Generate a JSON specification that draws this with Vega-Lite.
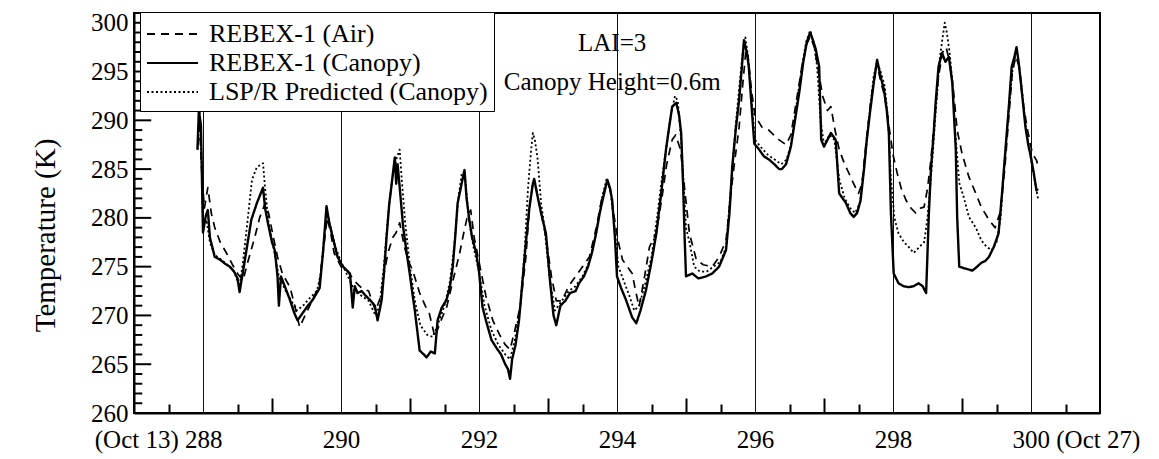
{
  "$schema": "https://vega.github.io/schema/vega-lite/v6.json",
  "width": 966,
  "height": 400,
  "autosize": {"type": "none"},
  "padding": {"left": 134, "top": 13, "right": 59, "bottom": 46},
  "background": "white",
  "config": {
    "font": "Liberation Serif",
    "view": {"stroke": "black", "strokeWidth": 2},
    "axis": {"labelFont": "Liberation Serif", "titleFont": "Liberation Serif", "labelColor": "black", "titleColor": "black", "domainColor": "black", "domainWidth": 2, "tickColor": "black", "tickWidth": 2, "labelFontSize": 25, "labelOverlap": false, "labelBound": false, "labelFlush": false},
    "legend": {"title": null, "orient": "none", "legendX": 6, "legendY": -1,
      "symbolType": "M-1,0H2.4", "symbolSize": 900, "symbolStrokeColor": "black", "symbolStrokeWidth": 1.8, "symbolFillColor": "transparent",
      "labelFont": "Liberation Serif", "labelFontSize": 26, "labelColor": "black", "labelLimit": 400, "labelOffset": 31,
      "rowPadding": -4.5, "padding": 6, "strokeColor": "black", "fillColor": "white"}
  },
  "data": {"values": [
{"s":"c","d":287.92,"t":287.0},{"s":"c","d":287.94,"t":291.0},{"s":"c","d":287.97,"t":289.5},{"s":"c","d":288.0,"t":278.5},{"s":"c","d":288.04,"t":280.2},{"s":"c","d":288.07,"t":280.8},{"s":"c","d":288.1,"t":278.0},{"s":"c","d":288.17,"t":276.0},{"s":"c","d":288.25,"t":275.7},{"s":"c","d":288.32,"t":275.3},{"s":"c","d":288.39,"t":275.0},{"s":"c","d":288.45,"t":274.5},{"s":"c","d":288.5,"t":273.8},{"s":"c","d":288.53,"t":272.4},{"s":"c","d":288.58,"t":274.5},{"s":"c","d":288.63,"t":276.7},{"s":"c","d":288.7,"t":279.8},{"s":"c","d":288.78,"t":281.5},{"s":"c","d":288.87,"t":283.1},{"s":"c","d":288.9,"t":281.0},{"s":"c","d":288.94,"t":279.5},{"s":"c","d":289.0,"t":277.5},{"s":"c","d":289.04,"t":276.7},{"s":"c","d":289.08,"t":274.0},{"s":"c","d":289.1,"t":271.0},{"s":"c","d":289.13,"t":274.0},{"s":"c","d":289.19,"t":272.9},{"s":"c","d":289.26,"t":271.6},{"s":"c","d":289.32,"t":270.3},{"s":"c","d":289.37,"t":269.5},{"s":"c","d":289.45,"t":270.3},{"s":"c","d":289.52,"t":271.0},{"s":"c","d":289.59,"t":271.6},{"s":"c","d":289.69,"t":272.8},{"s":"c","d":289.74,"t":276.5},{"s":"c","d":289.79,"t":281.2},{"s":"c","d":289.83,"t":279.5},{"s":"c","d":289.88,"t":278.0},{"s":"c","d":289.95,"t":276.0},{"s":"c","d":290.03,"t":275.0},{"s":"c","d":290.13,"t":274.3},{"s":"c","d":290.17,"t":270.8},{"s":"c","d":290.2,"t":273.0},{"s":"c","d":290.24,"t":272.3},{"s":"c","d":290.3,"t":272.5},{"s":"c","d":290.36,"t":272.0},{"s":"c","d":290.42,"t":271.6},{"s":"c","d":290.49,"t":271.0},{"s":"c","d":290.53,"t":269.5},{"s":"c","d":290.59,"t":271.6},{"s":"c","d":290.63,"t":275.0},{"s":"c","d":290.66,"t":278.0},{"s":"c","d":290.7,"t":281.5},{"s":"c","d":290.73,"t":283.2},{"s":"c","d":290.76,"t":285.0},{"s":"c","d":290.78,"t":286.2},{"s":"c","d":290.8,"t":283.5},{"s":"c","d":290.82,"t":285.5},{"s":"c","d":290.85,"t":283.2},{"s":"c","d":290.9,"t":279.1},{"s":"c","d":290.95,"t":276.5},{"s":"c","d":290.99,"t":274.6},{"s":"c","d":291.03,"t":272.5},{"s":"c","d":291.07,"t":270.5},{"s":"c","d":291.14,"t":266.4},{"s":"c","d":291.2,"t":266.0},{"s":"c","d":291.24,"t":265.7},{"s":"c","d":291.3,"t":266.3},{"s":"c","d":291.36,"t":266.1},{"s":"c","d":291.4,"t":269.5},{"s":"c","d":291.46,"t":270.8},{"s":"c","d":291.53,"t":271.6},{"s":"c","d":291.58,"t":273.0},{"s":"c","d":291.62,"t":275.0},{"s":"c","d":291.66,"t":278.5},{"s":"c","d":291.69,"t":281.5},{"s":"c","d":291.76,"t":283.9},{"s":"c","d":291.79,"t":284.9},{"s":"c","d":291.82,"t":282.0},{"s":"c","d":291.86,"t":279.8},{"s":"c","d":291.9,"t":278.0},{"s":"c","d":291.96,"t":276.4},{"s":"c","d":292.0,"t":274.5},{"s":"c","d":292.05,"t":270.9},{"s":"c","d":292.1,"t":269.5},{"s":"c","d":292.18,"t":267.5},{"s":"c","d":292.25,"t":266.7},{"s":"c","d":292.32,"t":266.0},{"s":"c","d":292.38,"t":265.0},{"s":"c","d":292.42,"t":264.5},{"s":"c","d":292.45,"t":263.5},{"s":"c","d":292.48,"t":265.5},{"s":"c","d":292.53,"t":267.0},{"s":"c","d":292.58,"t":269.5},{"s":"c","d":292.63,"t":273.5},{"s":"c","d":292.68,"t":277.5},{"s":"c","d":292.73,"t":281.0},{"s":"c","d":292.78,"t":283.5},{"s":"c","d":292.8,"t":284.0},{"s":"c","d":292.84,"t":282.5},{"s":"c","d":292.9,"t":280.5},{"s":"c","d":292.97,"t":278.4},{"s":"c","d":293.03,"t":273.5},{"s":"c","d":293.08,"t":270.0},{"s":"c","d":293.12,"t":269.0},{"s":"c","d":293.18,"t":271.0},{"s":"c","d":293.25,"t":271.5},{"s":"c","d":293.32,"t":272.3},{"s":"c","d":293.4,"t":272.5},{"s":"c","d":293.45,"t":273.3},{"s":"c","d":293.52,"t":274.0},{"s":"c","d":293.58,"t":275.0},{"s":"c","d":293.64,"t":276.5},{"s":"c","d":293.7,"t":278.5},{"s":"c","d":293.75,"t":280.5},{"s":"c","d":293.79,"t":281.8},{"s":"c","d":293.86,"t":283.9},{"s":"c","d":293.9,"t":283.0},{"s":"c","d":293.93,"t":281.8},{"s":"c","d":293.97,"t":278.0},{"s":"c","d":294.0,"t":274.0},{"s":"c","d":294.06,"t":272.8},{"s":"c","d":294.13,"t":271.6},{"s":"c","d":294.22,"t":269.8},{"s":"c","d":294.28,"t":269.2},{"s":"c","d":294.34,"t":270.5},{"s":"c","d":294.42,"t":272.6},{"s":"c","d":294.5,"t":275.5},{"s":"c","d":294.57,"t":278.4},{"s":"c","d":294.64,"t":282.5},{"s":"c","d":294.71,"t":287.0},{"s":"c","d":294.76,"t":289.5},{"s":"c","d":294.8,"t":291.4},{"s":"c","d":294.86,"t":291.8},{"s":"c","d":294.9,"t":290.5},{"s":"c","d":294.93,"t":288.7},{"s":"c","d":294.96,"t":283.0},{"s":"c","d":294.98,"t":278.0},{"s":"c","d":295.0,"t":274.0},{"s":"c","d":295.09,"t":274.3},{"s":"c","d":295.18,"t":273.8},{"s":"c","d":295.29,"t":274.0},{"s":"c","d":295.38,"t":274.3},{"s":"c","d":295.48,"t":275.0},{"s":"c","d":295.58,"t":276.7},{"s":"c","d":295.63,"t":280.5},{"s":"c","d":295.67,"t":285.2},{"s":"c","d":295.72,"t":289.0},{"s":"c","d":295.77,"t":292.1},{"s":"c","d":295.81,"t":295.5},{"s":"c","d":295.84,"t":298.2},{"s":"c","d":295.88,"t":297.0},{"s":"c","d":295.91,"t":295.5},{"s":"c","d":295.95,"t":291.5},{"s":"c","d":295.99,"t":287.6},{"s":"c","d":296.06,"t":287.0},{"s":"c","d":296.13,"t":286.3},{"s":"c","d":296.2,"t":286.0},{"s":"c","d":296.28,"t":285.5},{"s":"c","d":296.35,"t":285.0},{"s":"c","d":296.39,"t":285.0},{"s":"c","d":296.45,"t":285.5},{"s":"c","d":296.52,"t":287.3},{"s":"c","d":296.58,"t":290.0},{"s":"c","d":296.64,"t":292.8},{"s":"c","d":296.7,"t":296.0},{"s":"c","d":296.75,"t":298.0},{"s":"c","d":296.8,"t":299.0},{"s":"c","d":296.84,"t":298.2},{"s":"c","d":296.88,"t":297.3},{"s":"c","d":296.93,"t":295.5},{"s":"c","d":296.96,"t":288.0},{"s":"c","d":297.0,"t":287.3},{"s":"c","d":297.05,"t":288.0},{"s":"c","d":297.1,"t":288.7},{"s":"c","d":297.17,"t":288.0},{"s":"c","d":297.22,"t":282.5},{"s":"c","d":297.27,"t":282.0},{"s":"c","d":297.32,"t":281.5},{"s":"c","d":297.38,"t":280.5},{"s":"c","d":297.43,"t":280.1},{"s":"c","d":297.48,"t":280.5},{"s":"c","d":297.53,"t":281.8},{"s":"c","d":297.58,"t":285.0},{"s":"c","d":297.62,"t":288.0},{"s":"c","d":297.67,"t":291.0},{"s":"c","d":297.72,"t":293.8},{"s":"c","d":297.77,"t":296.2},{"s":"c","d":297.82,"t":294.5},{"s":"c","d":297.87,"t":293.1},{"s":"c","d":297.91,"t":291.0},{"s":"c","d":297.94,"t":288.7},{"s":"c","d":297.97,"t":280.5},{"s":"c","d":298.01,"t":274.3},{"s":"c","d":298.08,"t":273.3},{"s":"c","d":298.15,"t":273.0},{"s":"c","d":298.23,"t":272.9},{"s":"c","d":298.3,"t":273.0},{"s":"c","d":298.37,"t":273.3},{"s":"c","d":298.43,"t":273.0},{"s":"c","d":298.48,"t":272.3},{"s":"c","d":298.52,"t":280.5},{"s":"c","d":298.55,"t":285.0},{"s":"c","d":298.59,"t":288.7},{"s":"c","d":298.62,"t":292.0},{"s":"c","d":298.66,"t":295.5},{"s":"c","d":298.71,"t":296.9},{"s":"c","d":298.76,"t":296.0},{"s":"c","d":298.81,"t":296.5},{"s":"c","d":298.86,"t":293.8},{"s":"c","d":298.91,"t":287.0},{"s":"c","d":298.93,"t":280.1},{"s":"c","d":298.96,"t":275.0},{"s":"c","d":299.05,"t":274.8},{"s":"c","d":299.15,"t":274.6},{"s":"c","d":299.22,"t":275.0},{"s":"c","d":299.28,"t":275.4},{"s":"c","d":299.34,"t":275.6},{"s":"c","d":299.39,"t":276.0},{"s":"c","d":299.46,"t":277.0},{"s":"c","d":299.53,"t":278.4},{"s":"c","d":299.58,"t":282.5},{"s":"c","d":299.63,"t":287.0},{"s":"c","d":299.68,"t":291.5},{"s":"c","d":299.72,"t":295.5},{"s":"c","d":299.76,"t":296.5},{"s":"c","d":299.79,"t":297.5},{"s":"c","d":299.82,"t":296.0},{"s":"c","d":299.85,"t":294.1},{"s":"c","d":299.92,"t":289.3},{"s":"c","d":299.96,"t":287.5},{"s":"c","d":300.0,"t":286.2},{"s":"c","d":300.04,"t":284.6},{"s":"c","d":300.08,"t":282.8},{"s":"c","d":300.1,"t":283.0},
{"s":"a","d":287.93,"t":287.5},{"s":"a","d":287.95,"t":290.0},{"s":"a","d":287.98,"t":285.0},{"s":"a","d":288.02,"t":281.0},{"s":"a","d":288.07,"t":283.1},{"s":"a","d":288.12,"t":280.5},{"s":"a","d":288.17,"t":279.0},{"s":"a","d":288.25,"t":277.5},{"s":"a","d":288.34,"t":276.4},{"s":"a","d":288.42,"t":275.3},{"s":"a","d":288.5,"t":274.3},{"s":"a","d":288.58,"t":273.6},{"s":"a","d":288.65,"t":275.5},{"s":"a","d":288.75,"t":278.0},{"s":"a","d":288.82,"t":280.0},{"s":"a","d":288.9,"t":281.5},{"s":"a","d":288.95,"t":280.5},{"s":"a","d":289.02,"t":278.0},{"s":"a","d":289.08,"t":276.0},{"s":"a","d":289.15,"t":274.3},{"s":"a","d":289.26,"t":272.9},{"s":"a","d":289.33,"t":271.0},{"s":"a","d":289.4,"t":268.8},{"s":"a","d":289.48,"t":270.0},{"s":"a","d":289.58,"t":271.5},{"s":"a","d":289.68,"t":273.0},{"s":"a","d":289.75,"t":277.0},{"s":"a","d":289.8,"t":280.0},{"s":"a","d":289.85,"t":278.5},{"s":"a","d":289.9,"t":276.4},{"s":"a","d":290.0,"t":275.0},{"s":"a","d":290.1,"t":274.5},{"s":"a","d":290.2,"t":273.5},{"s":"a","d":290.3,"t":272.8},{"s":"a","d":290.4,"t":272.5},{"s":"a","d":290.5,"t":270.5},{"s":"a","d":290.58,"t":272.0},{"s":"a","d":290.63,"t":274.5},{"s":"a","d":290.68,"t":276.4},{"s":"a","d":290.75,"t":278.0},{"s":"a","d":290.8,"t":278.5},{"s":"a","d":290.85,"t":279.5},{"s":"a","d":290.92,"t":277.0},{"s":"a","d":290.98,"t":275.5},{"s":"a","d":291.04,"t":274.6},{"s":"a","d":291.14,"t":272.3},{"s":"a","d":291.22,"t":271.0},{"s":"a","d":291.28,"t":270.2},{"s":"a","d":291.36,"t":267.8},{"s":"a","d":291.45,"t":269.5},{"s":"a","d":291.53,"t":270.8},{"s":"a","d":291.62,"t":273.5},{"s":"a","d":291.72,"t":276.4},{"s":"a","d":291.78,"t":278.5},{"s":"a","d":291.83,"t":280.1},{"s":"a","d":291.88,"t":280.8},{"s":"a","d":291.93,"t":278.0},{"s":"a","d":292.0,"t":275.5},{"s":"a","d":292.1,"t":272.0},{"s":"a","d":292.2,"t":269.5},{"s":"a","d":292.3,"t":268.0},{"s":"a","d":292.38,"t":267.0},{"s":"a","d":292.45,"t":266.5},{"s":"a","d":292.52,"t":268.5},{"s":"a","d":292.6,"t":271.0},{"s":"a","d":292.68,"t":276.0},{"s":"a","d":292.73,"t":281.1},{"s":"a","d":292.78,"t":283.5},{"s":"a","d":292.83,"t":283.0},{"s":"a","d":292.9,"t":280.5},{"s":"a","d":292.97,"t":278.0},{"s":"a","d":293.05,"t":274.0},{"s":"a","d":293.12,"t":271.5},{"s":"a","d":293.2,"t":271.5},{"s":"a","d":293.3,"t":273.0},{"s":"a","d":293.4,"t":274.0},{"s":"a","d":293.5,"t":275.0},{"s":"a","d":293.6,"t":276.0},{"s":"a","d":293.7,"t":279.0},{"s":"a","d":293.78,"t":282.0},{"s":"a","d":293.85,"t":283.5},{"s":"a","d":293.9,"t":283.0},{"s":"a","d":293.95,"t":280.5},{"s":"a","d":294.02,"t":277.5},{"s":"a","d":294.08,"t":275.7},{"s":"a","d":294.15,"t":275.0},{"s":"a","d":294.22,"t":274.3},{"s":"a","d":294.27,"t":272.5},{"s":"a","d":294.32,"t":270.9},{"s":"a","d":294.4,"t":274.0},{"s":"a","d":294.47,"t":277.0},{"s":"a","d":294.57,"t":278.5},{"s":"a","d":294.65,"t":282.0},{"s":"a","d":294.72,"t":285.5},{"s":"a","d":294.8,"t":288.0},{"s":"a","d":294.85,"t":288.5},{"s":"a","d":294.92,"t":287.0},{"s":"a","d":294.98,"t":283.0},{"s":"a","d":295.05,"t":278.4},{"s":"a","d":295.15,"t":275.7},{"s":"a","d":295.25,"t":275.2},{"s":"a","d":295.38,"t":275.0},{"s":"a","d":295.48,"t":276.0},{"s":"a","d":295.58,"t":277.7},{"s":"a","d":295.65,"t":282.5},{"s":"a","d":295.7,"t":285.5},{"s":"a","d":295.77,"t":289.3},{"s":"a","d":295.82,"t":293.5},{"s":"a","d":295.87,"t":297.3},{"s":"a","d":295.9,"t":296.5},{"s":"a","d":295.95,"t":293.0},{"s":"a","d":296.0,"t":290.5},{"s":"a","d":296.1,"t":289.3},{"s":"a","d":296.2,"t":289.0},{"s":"a","d":296.3,"t":288.3},{"s":"a","d":296.35,"t":288.0},{"s":"a","d":296.45,"t":287.5},{"s":"a","d":296.52,"t":288.5},{"s":"a","d":296.6,"t":292.0},{"s":"a","d":296.68,"t":295.5},{"s":"a","d":296.75,"t":297.8},{"s":"a","d":296.8,"t":298.6},{"s":"a","d":296.86,"t":297.5},{"s":"a","d":296.92,"t":295.0},{"s":"a","d":296.98,"t":292.5},{"s":"a","d":297.05,"t":291.0},{"s":"a","d":297.1,"t":291.4},{"s":"a","d":297.16,"t":289.0},{"s":"a","d":297.22,"t":287.0},{"s":"a","d":297.3,"t":285.5},{"s":"a","d":297.36,"t":284.6},{"s":"a","d":297.43,"t":283.5},{"s":"a","d":297.5,"t":282.5},{"s":"a","d":297.55,"t":283.5},{"s":"a","d":297.6,"t":287.0},{"s":"a","d":297.67,"t":291.5},{"s":"a","d":297.72,"t":294.0},{"s":"a","d":297.77,"t":295.8},{"s":"a","d":297.82,"t":294.0},{"s":"a","d":297.88,"t":292.5},{"s":"a","d":297.94,"t":289.5},{"s":"a","d":298.0,"t":286.5},{"s":"a","d":298.06,"t":284.6},{"s":"a","d":298.12,"t":283.0},{"s":"a","d":298.19,"t":281.8},{"s":"a","d":298.26,"t":281.0},{"s":"a","d":298.33,"t":280.5},{"s":"a","d":298.4,"t":281.0},{"s":"a","d":298.45,"t":281.1},{"s":"a","d":298.5,"t":283.0},{"s":"a","d":298.55,"t":286.0},{"s":"a","d":298.6,"t":290.0},{"s":"a","d":298.66,"t":294.5},{"s":"a","d":298.72,"t":297.0},{"s":"a","d":298.77,"t":297.5},{"s":"a","d":298.82,"t":296.0},{"s":"a","d":298.87,"t":293.5},{"s":"a","d":298.93,"t":289.0},{"s":"a","d":299.0,"t":286.6},{"s":"a","d":299.1,"t":284.2},{"s":"a","d":299.2,"t":282.5},{"s":"a","d":299.28,"t":281.1},{"s":"a","d":299.39,"t":279.8},{"s":"a","d":299.48,"t":279.0},{"s":"a","d":299.55,"t":280.5},{"s":"a","d":299.62,"t":285.0},{"s":"a","d":299.68,"t":290.5},{"s":"a","d":299.73,"t":295.0},{"s":"a","d":299.78,"t":296.5},{"s":"a","d":299.83,"t":295.5},{"s":"a","d":299.88,"t":292.0},{"s":"a","d":299.95,"t":289.0},{"s":"a","d":300.02,"t":286.6},{"s":"a","d":300.08,"t":285.9},{"s":"a","d":300.12,"t":285.0},
{"s":"p","d":287.92,"t":287.0},{"s":"p","d":287.95,"t":291.0},{"s":"p","d":287.98,"t":286.0},{"s":"p","d":288.0,"t":279.0},{"s":"p","d":288.05,"t":279.8},{"s":"p","d":288.1,"t":277.5},{"s":"p","d":288.17,"t":276.2},{"s":"p","d":288.25,"t":275.8},{"s":"p","d":288.35,"t":275.2},{"s":"p","d":288.45,"t":274.5},{"s":"p","d":288.53,"t":273.0},{"s":"p","d":288.58,"t":275.5},{"s":"p","d":288.65,"t":280.0},{"s":"p","d":288.71,"t":283.9},{"s":"p","d":288.78,"t":285.2},{"s":"p","d":288.87,"t":285.6},{"s":"p","d":288.9,"t":283.0},{"s":"p","d":288.95,"t":279.5},{"s":"p","d":289.02,"t":277.0},{"s":"p","d":289.1,"t":274.0},{"s":"p","d":289.2,"t":272.5},{"s":"p","d":289.28,"t":271.5},{"s":"p","d":289.36,"t":270.5},{"s":"p","d":289.45,"t":271.0},{"s":"p","d":289.55,"t":271.8},{"s":"p","d":289.65,"t":272.5},{"s":"p","d":289.7,"t":274.0},{"s":"p","d":289.75,"t":277.5},{"s":"p","d":289.8,"t":280.5},{"s":"p","d":289.85,"t":279.0},{"s":"p","d":289.92,"t":277.0},{"s":"p","d":290.0,"t":275.5},{"s":"p","d":290.1,"t":274.0},{"s":"p","d":290.2,"t":272.5},{"s":"p","d":290.3,"t":272.0},{"s":"p","d":290.4,"t":271.5},{"s":"p","d":290.5,"t":270.0},{"s":"p","d":290.56,"t":271.0},{"s":"p","d":290.62,"t":275.0},{"s":"p","d":290.68,"t":280.0},{"s":"p","d":290.74,"t":284.0},{"s":"p","d":290.8,"t":286.0},{"s":"p","d":290.85,"t":287.0},{"s":"p","d":290.88,"t":284.0},{"s":"p","d":290.93,"t":279.5},{"s":"p","d":291.0,"t":275.0},{"s":"p","d":291.07,"t":271.5},{"s":"p","d":291.15,"t":269.0},{"s":"p","d":291.25,"t":268.0},{"s":"p","d":291.33,"t":267.8},{"s":"p","d":291.4,"t":269.0},{"s":"p","d":291.5,"t":271.0},{"s":"p","d":291.58,"t":273.5},{"s":"p","d":291.64,"t":277.0},{"s":"p","d":291.7,"t":282.0},{"s":"p","d":291.75,"t":284.5},{"s":"p","d":291.8,"t":284.0},{"s":"p","d":291.85,"t":280.0},{"s":"p","d":291.92,"t":277.0},{"s":"p","d":292.0,"t":274.5},{"s":"p","d":292.08,"t":271.0},{"s":"p","d":292.18,"t":268.5},{"s":"p","d":292.28,"t":267.0},{"s":"p","d":292.38,"t":266.0},{"s":"p","d":292.45,"t":265.5},{"s":"p","d":292.52,"t":267.5},{"s":"p","d":292.6,"t":271.0},{"s":"p","d":292.66,"t":276.5},{"s":"p","d":292.71,"t":283.0},{"s":"p","d":292.75,"t":286.5},{"s":"p","d":292.78,"t":288.7},{"s":"p","d":292.81,"t":288.0},{"s":"p","d":292.85,"t":286.0},{"s":"p","d":292.9,"t":281.5},{"s":"p","d":292.95,"t":279.0},{"s":"p","d":293.02,"t":274.0},{"s":"p","d":293.1,"t":270.5},{"s":"p","d":293.2,"t":271.5},{"s":"p","d":293.3,"t":272.5},{"s":"p","d":293.4,"t":273.0},{"s":"p","d":293.5,"t":274.0},{"s":"p","d":293.6,"t":275.5},{"s":"p","d":293.7,"t":278.5},{"s":"p","d":293.78,"t":282.0},{"s":"p","d":293.85,"t":284.0},{"s":"p","d":293.9,"t":283.0},{"s":"p","d":293.95,"t":280.0},{"s":"p","d":294.02,"t":275.0},{"s":"p","d":294.1,"t":273.5},{"s":"p","d":294.18,"t":272.0},{"s":"p","d":294.25,"t":270.5},{"s":"p","d":294.32,"t":271.0},{"s":"p","d":294.4,"t":273.0},{"s":"p","d":294.5,"t":276.0},{"s":"p","d":294.58,"t":280.0},{"s":"p","d":294.65,"t":284.0},{"s":"p","d":294.72,"t":287.5},{"s":"p","d":294.78,"t":290.5},{"s":"p","d":294.84,"t":292.5},{"s":"p","d":294.88,"t":292.0},{"s":"p","d":294.93,"t":288.0},{"s":"p","d":294.97,"t":283.0},{"s":"p","d":295.0,"t":279.0},{"s":"p","d":295.05,"t":277.5},{"s":"p","d":295.12,"t":275.0},{"s":"p","d":295.2,"t":274.5},{"s":"p","d":295.3,"t":274.5},{"s":"p","d":295.4,"t":275.0},{"s":"p","d":295.5,"t":275.5},{"s":"p","d":295.58,"t":277.0},{"s":"p","d":295.65,"t":283.0},{"s":"p","d":295.72,"t":289.5},{"s":"p","d":295.78,"t":294.0},{"s":"p","d":295.83,"t":297.5},{"s":"p","d":295.86,"t":298.5},{"s":"p","d":295.9,"t":296.5},{"s":"p","d":295.95,"t":292.0},{"s":"p","d":296.0,"t":288.0},{"s":"p","d":296.08,"t":287.3},{"s":"p","d":296.18,"t":286.5},{"s":"p","d":296.28,"t":286.0},{"s":"p","d":296.38,"t":285.5},{"s":"p","d":296.46,"t":286.0},{"s":"p","d":296.52,"t":287.5},{"s":"p","d":296.6,"t":291.5},{"s":"p","d":296.68,"t":295.5},{"s":"p","d":296.74,"t":298.0},{"s":"p","d":296.8,"t":299.2},{"s":"p","d":296.85,"t":298.0},{"s":"p","d":296.9,"t":295.5},{"s":"p","d":296.95,"t":290.0},{"s":"p","d":297.0,"t":287.5},{"s":"p","d":297.08,"t":288.5},{"s":"p","d":297.15,"t":288.0},{"s":"p","d":297.22,"t":284.0},{"s":"p","d":297.3,"t":282.0},{"s":"p","d":297.38,"t":281.0},{"s":"p","d":297.45,"t":280.5},{"s":"p","d":297.52,"t":281.5},{"s":"p","d":297.58,"t":285.0},{"s":"p","d":297.65,"t":290.0},{"s":"p","d":297.72,"t":294.5},{"s":"p","d":297.77,"t":296.0},{"s":"p","d":297.82,"t":295.0},{"s":"p","d":297.88,"t":293.5},{"s":"p","d":297.93,"t":290.0},{"s":"p","d":297.97,"t":284.0},{"s":"p","d":298.02,"t":280.0},{"s":"p","d":298.08,"t":278.4},{"s":"p","d":298.16,"t":277.5},{"s":"p","d":298.23,"t":277.0},{"s":"p","d":298.3,"t":276.4},{"s":"p","d":298.38,"t":277.0},{"s":"p","d":298.45,"t":277.5},{"s":"p","d":298.5,"t":280.0},{"s":"p","d":298.56,"t":285.0},{"s":"p","d":298.62,"t":291.0},{"s":"p","d":298.68,"t":296.5},{"s":"p","d":298.72,"t":298.5},{"s":"p","d":298.75,"t":300.0},{"s":"p","d":298.78,"t":299.0},{"s":"p","d":298.82,"t":297.0},{"s":"p","d":298.86,"t":294.0},{"s":"p","d":298.9,"t":289.0},{"s":"p","d":298.96,"t":283.6},{"s":"p","d":299.03,"t":282.0},{"s":"p","d":299.1,"t":280.1},{"s":"p","d":299.2,"t":279.0},{"s":"p","d":299.28,"t":277.7},{"s":"p","d":299.36,"t":277.0},{"s":"p","d":299.43,"t":276.7},{"s":"p","d":299.5,"t":277.5},{"s":"p","d":299.56,"t":280.0},{"s":"p","d":299.62,"t":286.0},{"s":"p","d":299.68,"t":291.5},{"s":"p","d":299.73,"t":295.0},{"s":"p","d":299.77,"t":296.5},{"s":"p","d":299.82,"t":296.0},{"s":"p","d":299.87,"t":293.0},{"s":"p","d":299.93,"t":289.0},{"s":"p","d":300.0,"t":286.0},{"s":"p","d":300.05,"t":284.0},{"s":"p","d":300.1,"t":282.0}
  ]},
  "resolve": {"axis": {"x": "independent", "y": "independent"}},
  "layer": [
    {
      "data": {"values": [
        {"v":261},{"v":262},{"v":263},{"v":264},{"v":266},{"v":267},{"v":268},{"v":269},{"v":271},{"v":272},{"v":273},{"v":274},{"v":276},{"v":277},{"v":278},{"v":279},
        {"v":281},{"v":282},{"v":283},{"v":284},{"v":286},{"v":287},{"v":288},{"v":289},{"v":291},{"v":292},{"v":293},{"v":294},{"v":296},{"v":297},{"v":298},{"v":299}
      ]},
      "mark": {"type": "rule", "color": "black", "strokeWidth": 2},
      "encoding": {
        "x": {"datum": 287, "type": "quantitative", "axis": null},
        "x2": {"datum": 287.12},
        "y": {"field": "v", "type": "quantitative", "axis": null}
      }
    },
    {
      "data": {"values": [
        {"v":260},{"v":265},{"v":270},{"v":275},{"v":280},{"v":285},{"v":290},{"v":295},{"v":300}
      ]},
      "mark": {"type": "rule", "color": "black", "strokeWidth": 2},
      "encoding": {
        "x": {"datum": 287, "type": "quantitative", "axis": null},
        "x2": {"datum": 287.25},
        "y": {"field": "v", "type": "quantitative", "axis": null}
      }
    },
    {
      "transform": [{"filter": "datum.s == 'a'"}],
      "mark": {"type": "line", "color": "black", "strokeWidth": 1.7, "strokeJoin": "round"},
      "encoding": {
        "x": {"field": "d", "type": "quantitative", "scale": {"domain": [287, 301], "nice": false, "zero": false},
          "axis": {"orient": "bottom", "title": null, "values": [287.5,288.5,289.5,290.5,291.5,292.5,293.5,294.5,295.5,296.5,297.5,298.5,299.5,300.5], "labels": false, "tickSize": -9, "domain": false, "grid": false}},
        "y": {"field": "t", "type": "quantitative", "scale": {"domain": [260, 301], "nice": false, "zero": false}, "axis": null},
        "strokeDash": {"field": "s", "type": "nominal",
          "scale": {"domain": ["a", "c", "p"], "range": [[8, 6], [1, 0], [2, 2.5]]},
          "legend": {"labelExpr": "datum.label == 'a' ? 'REBEX-1 (Air)' : datum.label == 'c' ? 'REBEX-1 (Canopy)' : 'LSP/R Predicted (Canopy)'"}}
      }
    },
    {
      "transform": [{"filter": "datum.s == 'p'"}],
      "mark": {"type": "line", "color": "black", "strokeWidth": 1.8, "strokeJoin": "round"},
      "encoding": {
        "x": {"field": "d", "type": "quantitative",
          "axis": {"orient": "bottom", "title": null, "values": [289,291,293,295,297,299], "labels": false, "tickSize": -15, "domain": false, "grid": false}},
        "y": {"field": "t", "type": "quantitative", "axis": null},
        "strokeDash": {"field": "s", "type": "nominal",
          "scale": {"domain": ["a", "c", "p"], "range": [[8, 6], [1, 0], [2, 2.5]]},
          "legend": {"labelExpr": "datum.label == 'a' ? 'REBEX-1 (Air)' : datum.label == 'c' ? 'REBEX-1 (Canopy)' : 'LSP/R Predicted (Canopy)'"}}
      }
    },
    {
      "transform": [{"filter": "datum.s == 'c'"}],
      "mark": {"type": "line", "color": "black", "strokeWidth": 2.4, "strokeJoin": "round"},
      "encoding": {
        "x": {"field": "d", "type": "quantitative",
          "axis": {"orient": "bottom", "title": null, "values": [288,290,292,294,296,298,300], "format": "d",
            "labelExpr": "datum.value == 288 || datum.value == 300 ? '' : datum.label",
            "ticks": false, "labelPadding": 14, "domain": true, "grid": true, "gridColor": "#111111", "gridWidth": 1}},
        "y": {"field": "t", "type": "quantitative",
          "axis": {"orient": "left", "title": "Temperature (K)", "titleFontSize": 29, "titleFontWeight": "normal", "titlePadding": 30, "titleY": 222,
            "values": [260,265,270,275,280,285,290,295,300], "format": "d", "ticks": false, "labelPadding": 6, "domain": true, "grid": false}},
        "strokeDash": {"field": "s", "type": "nominal",
          "scale": {"domain": ["a", "c", "p"], "range": [[8, 6], [1, 0], [2, 2.5]]},
          "legend": {"labelExpr": "datum.label == 'a' ? 'REBEX-1 (Air)' : datum.label == 'c' ? 'REBEX-1 (Canopy)' : 'LSP/R Predicted (Canopy)'"}}
      }
    },
    {
      "data": {"values": [{"d": 293.93, "t": 297.9, "txt": "LAI=3"}]},
      "mark": {"type": "text", "font": "Liberation Serif", "fontSize": 25, "color": "black", "align": "center", "baseline": "middle"},
      "encoding": {
        "x": {"field": "d", "type": "quantitative",
          "axis": {"orient": "bottom", "title": null, "values": [288], "labelExpr": "'(Oct 13) 288'", "labelAlign": "right", "labelOffset": 19, "ticks": false, "labelPadding": 14, "domain": false, "grid": false}},
        "y": {"field": "t", "type": "quantitative", "axis": null},
        "text": {"field": "txt"}
      }
    },
    {
      "data": {"values": [{"d": 293.93, "t": 293.95, "txt": "Canopy Height=0.6m"}]},
      "mark": {"type": "text", "font": "Liberation Serif", "fontSize": 25, "color": "black", "align": "center", "baseline": "middle"},
      "encoding": {
        "x": {"field": "d", "type": "quantitative",
          "axis": {"orient": "bottom", "title": null, "values": [300], "labelExpr": "'300 (Oct 27)'", "labelAlign": "left", "labelOffset": -19, "ticks": false, "labelPadding": 14, "domain": false, "grid": false}},
        "y": {"field": "t", "type": "quantitative", "axis": null},
        "text": {"field": "txt"}
      }
    }
  ]
}
